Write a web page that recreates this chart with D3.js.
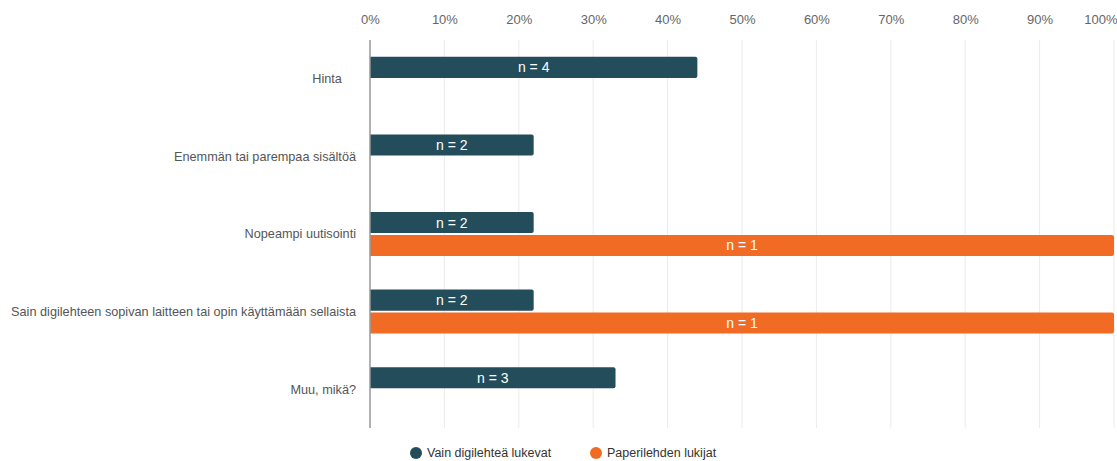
<!DOCTYPE html>
<html>
<head>
<meta charset="utf-8">
<script src="https://cdn.jsdelivr.net/npm/d3@7"></script>
<style>
  html, body { margin: 0; padding: 0; background: #fff; }
  svg { display: block; font-family: "Liberation Sans", Arial, Helvetica, sans-serif; }
</style>
</head>
<body>
<svg id="chart" width="1117" height="461"></svg>
<script>
const categories = [
  "Hinta",
  "Enemmän tai parempaa sisältöä",
  "Nopeampi uutisointi",
  "Sain digilehteen sopivan laitteen tai opin käyttämään sellaista",
  "Muu, mikä?"
];
const seriesNames = ["Vain digilehteä lukevat", "Paperilehden lukijat"];
const digiPercent = [44, 22, 22, 22, 33];
const digiCount = [4, 2, 2, 2, 3];
const paperPercent = [0, 0, 100, 100, 0];
const paperCount = [0, 0, 1, 1, 0];
const tickValues = [0, 10, 20, 30, 40, 50, 60, 70, 80, 90, 100];
const colors = ["#234d5b", "#f26b24"];

(function () {
const svg = d3.select("#chart");
const plotLeft = 370, plotRight = 1114, plotTop = 40, plotBottom = 428;

const x = d3.scaleLinear().domain([0, 100]).range([plotLeft, plotRight]);
const y0 = d3.scaleBand().domain(categories).range([plotTop, plotBottom]).padding(0);

const rows = categories.map((c, i) => ({
  cat: c,
  bars: [
    { s: 0, v: digiPercent[i], n: digiCount[i] },
    { s: 1, v: paperPercent[i], n: paperCount[i] }
  ]
}));

// gridlines
svg.append("g").selectAll("line").data(tickValues.filter(t => t > 0)).join("line")
  .attr("x1", d => x(d)).attr("x2", d => x(d))
  .attr("y1", plotTop).attr("y2", plotBottom)
  .attr("stroke", "#ebebeb").attr("stroke-width", 1);

// top tick labels
const axis = svg.append("g").attr("transform", `translate(0,24)`)
  .call(d3.axisTop(x).tickValues(tickValues).tickFormat(d => d + "%").tickSize(0).tickPadding(0));
axis.select(".domain").remove();
axis.selectAll("text")
  .attr("fill", "#666").attr("font-size", 13).attr("dy", 0)
  .attr("font-family", "Liberation Sans, Arial, sans-serif");
axis.selectAll(".tick").filter(d => d === 100).select("text")
  .attr("text-anchor", "end").attr("x", 1117 - x(100));

// category labels
svg.append("g").selectAll("text").data(categories).join("text")
  .attr("x", 356)
  .attr("y", d => y0(d) + y0.bandwidth() / 2)
  .attr("dy", "0.35em")
  .attr("text-anchor", "end")
  .attr("fill", "#555").attr("font-size", 12.7)
  .style("white-space", "pre")
  .text(d => d === "Hinta" ? "Hinta    " : d);

// bars
const g = svg.append("g").selectAll("g").data(rows).join("g");
const y1 = d3.scaleBand().domain([0, 1]).range([-22, 22]).paddingInner(0.08);
function barPath(x0, x1, yt, h, r) {
  const w = x1 - x0;
  if (w <= 0) return "";
  r = Math.min(r, w);
  return `M${x0},${yt}H${x1 - r}Q${x1},${yt} ${x1},${yt + r}V${yt + h - r}Q${x1},${yt + h} ${x1 - r},${yt + h}H${x0}Z`;
}
g.each(function(row) {
  const cy = y0(row.cat) + y0.bandwidth() / 2;
  const sel = d3.select(this);
  row.bars.filter(b => b.v > 0).forEach(b => {
    const yt = cy + y1(b.s);
    sel.append("path")
      .attr("d", barPath(x(0), x(b.v), yt, y1.bandwidth(), 2))
      .attr("fill", colors[b.s]);
    sel.append("text")
      .attr("x", (x(0) + x(b.v)) / 2)
      .attr("y", yt + y1.bandwidth() / 2)
      .attr("dy", "0.36em")
      .attr("text-anchor", "middle")
      .attr("fill", "#fff").attr("font-size", 14)
      .text("n = " + b.n);
  });
});

// axis line
svg.append("line")
  .attr("x1", x(0)).attr("x2", x(0)).attr("y1", plotTop).attr("y2", plotBottom)
  .attr("stroke", "#999").attr("stroke-width", 1.5);

// legend
const legendX = [416, 596];
const lg = svg.append("g").selectAll("g").data(seriesNames).join("g")
  .attr("transform", (d, i) => `translate(${legendX[i]},453)`);
lg.append("circle").attr("r", 6).attr("fill", (d, i) => colors[i]);
lg.append("text").attr("x", 11).attr("dy", "0.35em")
  .attr("fill", "#333").attr("font-size", 12.5).text(d => d);
})();
</script>
</body>
</html>
